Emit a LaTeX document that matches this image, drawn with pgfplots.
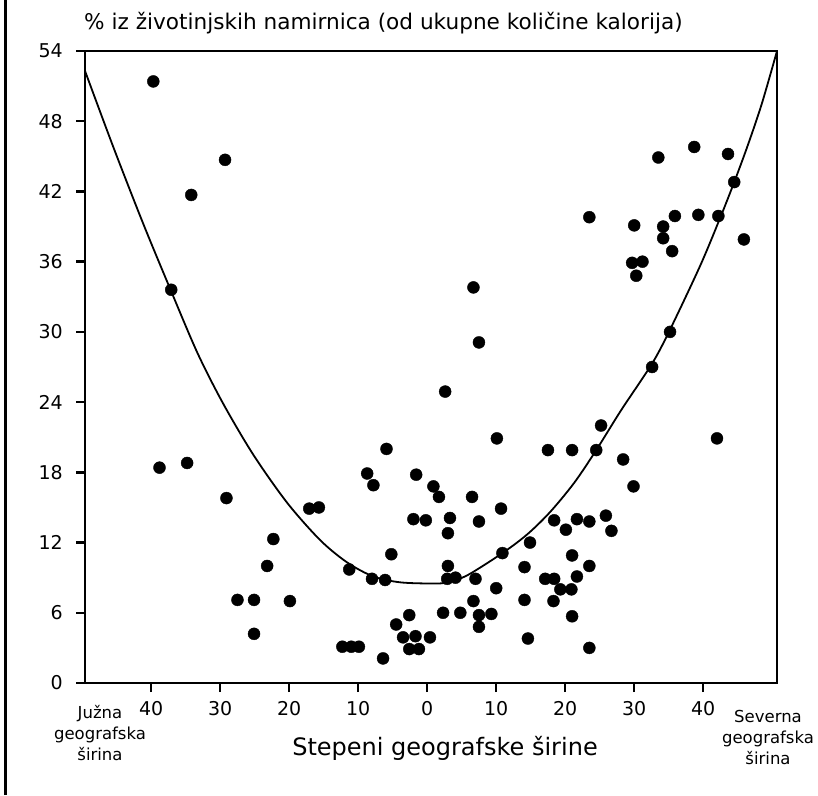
\documentclass[border=0pt]{standalone}
\usepackage{pgfplots}
\pgfplotsset{compat=1.18}
\usepackage{fontspec}
\setmainfont{DejaVu Sans}
\pgfplotsset{
  every axis/.append style={line width=2.4pt},
  every tick/.append style={line width=2.4pt, black},
  every major tick/.append style={line width=2.4pt, black},
}
\begin{document}
\begin{tikzpicture}[x=1pt,y=1pt]
\path[use as bounding box] (0,0) rectangle (818,795);
\draw[line width=3pt] (5,0) -- (5,795);
\begin{axis}[
  at={(85pt,112pt)}, anchor=south west,
  scale only axis, width=692pt, height=632pt,
  xmin=-49.6, xmax=50.7, ymin=0, ymax=54,
  axis line style={line width=2.4pt},
  xtick={-40,-30,-20,-10,0,10,20,30,40},
  xticklabels={40,30,20,10,0,10,20,30,40},
  ytick={0,6,12,18,24,30,36,42,48,54},
  tick align=outside, xtick pos=bottom, ytick pos=left,
  major tick length=9pt,
  xtick style={line width=2.4pt, black},
  ytick style={line width=2.4pt, black},
  /pgf/number format/assume math mode=true,
  ticklabel style={font=\fontsize{19}{22}\selectfont},
  yticklabel style={anchor=east, inner sep=0pt, xshift=-12pt},
  xticklabel style={anchor=north, inner sep=0pt, yshift=-8pt},
]
\addplot[smooth, line width=1.8pt, black, no markers] coordinates {
(-49.6,52.3) (-45.5,45.8) (-41.2,39.3) (-37.2,33.6) (-33.3,28.2) (-29.6,23.9)
(-25.2,19.5) (-20.3,15.4) (-15.5,12.2) (-11.6,10.3) (-7.8,9.1) (-3.9,8.6)
(0.9,8.5) (2.9,8.6) (5.8,9.2) (10.9,11.1) (14.5,12.7) (17.8,14.6) (21.3,17.1)
(24.5,19.9) (28.1,23.3) (32.6,27.3) (35.2,30.2) (39.6,35.7) (42.5,39.8)
(44.5,42.8) (46.5,46.0) (48.5,49.5) (50.7,54.0)
};
\addplot[only marks, mark=*, mark size=6pt, black, mark options={line width=0.4pt}] coordinates {
(-39.7,51.4) (-29.3,44.7) (-34.2,41.7) (-37.1,33.6) (-38.8,18.4) (-34.8,18.8)
(-29.1,15.8) (-22.3,12.3) (-23.2,10.0) (-27.5,7.1) (-25.1,7.1) (-19.9,7.0)
(-25.1,4.2) (-17.1,14.9) (-15.7,15.0) (-11.3,9.7) (-8.0,8.9) (-6.1,8.8)
(-12.3,3.1) (-11.0,3.1) (-9.9,3.1) (-6.4,2.1) (-8.7,17.9) (-7.8,16.9)
(-5.9,20.0) (-5.2,11.0) (-1.6,17.8) (-2.0,14.0) (-0.2,13.9) (0.9,16.8)
(1.7,15.9) (2.6,24.9) (3.3,14.1) (3.0,12.8) (3.0,10.0) (2.9,8.9) (4.1,9.0)
(-2.6,5.8) (-4.5,5.0) (-3.5,3.9) (-1.7,4.0) (-2.6,2.9) (-1.2,2.9) (0.4,3.9)
(6.5,15.9) (2.3,6.0) (4.8,6.0) (6.7,7.0) (6.7,33.8) (7.5,29.1)
(32.6,27.0) (42.0,20.9) (10.1,20.9) (17.5,19.9) (21.0,19.9) (24.5,19.9)
(25.2,22.0) (28.4,19.1) (29.9,16.8) (10.7,14.9) (7.5,13.8) (18.4,13.9)
(20.1,13.1) (21.7,14.0) (23.5,13.8) (25.9,14.3) (26.7,13.0) (14.9,12.0)
(10.9,11.1) (21.0,10.9) (7.0,8.9) (14.1,9.9) (17.1,8.9) (18.4,8.9)
(19.3,8.0) (20.9,8.0) (21.7,9.1) (23.5,10.0) (10.0,8.1) (14.1,7.1)
(18.3,7.0) (7.5,5.8) (9.3,5.9) (7.5,4.8) (21.0,5.7) (14.6,3.8) (23.5,3.0)
(38.7,45.8) (33.5,44.9) (43.6,45.2) (44.5,42.8) (35.9,39.9) (39.3,40.0)
(42.2,39.9) (30.0,39.1) (34.2,39.0) (34.2,38.0) (35.5,36.9) (45.9,37.9)
(29.7,35.9) (31.2,36.0) (30.3,34.8) (23.5,39.8) (35.2,30.0)
};
\end{axis}
\draw[line width=2.4pt] (85,112) rectangle (777,744);
\node[anchor=west, font=\fontsize{21.6}{24}\selectfont, inner sep=0pt] at (84,772) {\% iz životinjskih namirnica (od ukupne količine kalorija)};
\node[font=\fontsize{24}{28}\selectfont, inner sep=0pt] at (445,47) {Stepeni geografske širine};
\node[align=center, font=\fontsize{16.5}{21}\selectfont, inner sep=0pt] at (100,62) {Južna\\geografska\\širina};
\node[align=center, font=\fontsize{16.5}{21}\selectfont, inner sep=0pt] at (768,58) {Severna\\geografska\\širina};
\end{tikzpicture}
\end{document}
